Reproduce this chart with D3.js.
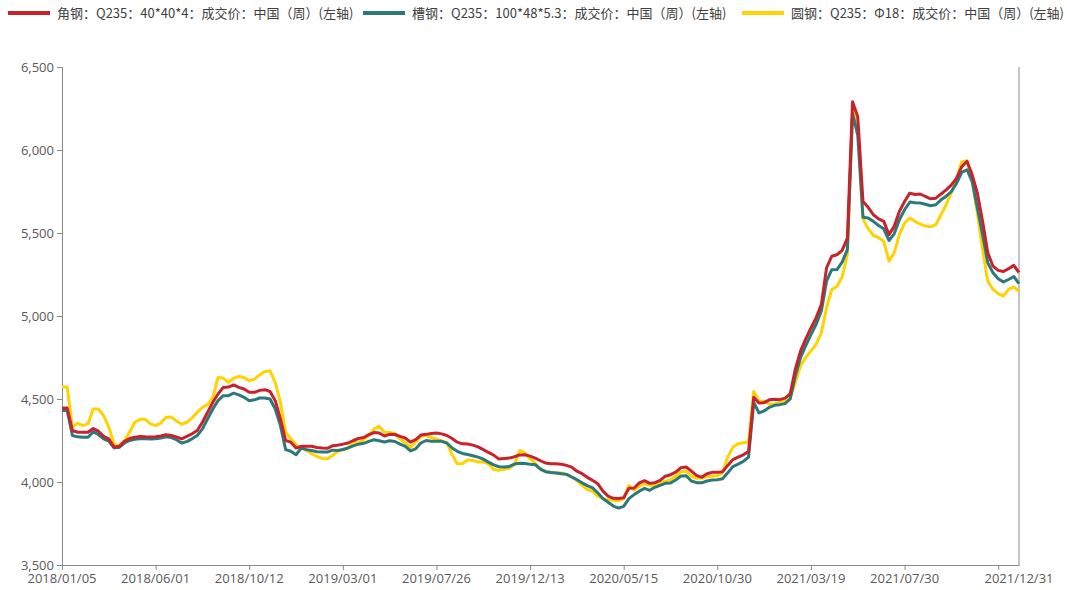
<!DOCTYPE html>
<html>
<head>
<meta charset="utf-8">
<script src="https://cdn.jsdelivr.net/npm/d3@7/dist/d3.min.js"></script>
<style>
  html, body { margin: 0; padding: 0; background: #fff; }
  svg { display: block; font-family: "Noto Sans CJK SC", "Noto Sans", sans-serif; }
</style>
</head>
<body>
<svg id="chart" width="1067" height="590"></svg>
<script>
// Weekly prices, yuan/ton, 185 weekly observations 2018/01/05 – 2021/12/31
const angleSteel = [
  4446,4446,4310,4300,4300,4300,4322,4306,4275,4260,
  4210,4215,4245,4262,4270,4274,4272,4271,4272,4278,
  4285,4280,4272,4260,4275,4290,4310,4360,4420,4480,
  4530,4570,4572,4585,4570,4560,4540,4540,4552,4556,
  4545,4490,4380,4250,4240,4205,4215,4215,4215,4208,
  4205,4203,4218,4222,4228,4235,4250,4262,4268,4285,
  4298,4295,4277,4287,4286,4275,4265,4240,4255,4283,
  4287,4292,4295,4290,4280,4262,4240,4230,4229,4222,
  4212,4195,4178,4162,4138,4142,4144,4152,4163,4164,
  4156,4144,4128,4114,4110,4110,4107,4100,4090,4065,
  4050,4028,4010,3990,3945,3915,3902,3900,3905,3962,
  3964,3995,4008,3992,3996,4010,4035,4044,4060,4086,
  4090,4066,4040,4028,4050,4058,4058,4062,4100,4135,
  4150,4164,4184,4510,4476,4478,4495,4498,4496,4505,
  4530,4680,4790,4862,4928,4990,5070,5290,5360,5369,
  5395,5470,6290,6200,5690,5655,5610,5585,5570,5490,
  5540,5630,5690,5740,5732,5735,5720,5706,5710,5735,
  5760,5790,5830,5900,5932,5850,5740,5570,5380,5300,
  5275,5268,5285,5305,5262
];
const channelSteel = [
  4431,4431,4280,4272,4270,4270,4302,4286,4260,4246,
  4206,4208,4235,4250,4258,4261,4260,4259,4260,4265,
  4272,4268,4255,4235,4243,4260,4280,4320,4380,4440,
  4490,4520,4520,4535,4525,4510,4490,4495,4506,4506,
  4500,4440,4340,4195,4185,4164,4205,4195,4190,4182,
  4180,4180,4192,4190,4196,4205,4218,4228,4233,4245,
  4255,4248,4241,4248,4244,4228,4215,4187,4200,4235,
  4250,4245,4245,4245,4235,4205,4185,4172,4166,4158,
  4150,4138,4120,4103,4092,4090,4094,4108,4113,4111,
  4107,4104,4078,4062,4057,4054,4050,4046,4030,4014,
  3995,3978,3965,3935,3900,3878,3855,3843,3853,3900,
  3924,3945,3962,3950,3968,3980,3992,3994,4012,4036,
  4038,4006,3996,3995,4006,4012,4014,4020,4055,4093,
  4108,4124,4150,4480,4416,4428,4450,4462,4466,4472,
  4500,4640,4750,4822,4888,4950,5030,5210,5279,5280,
  5325,5400,6220,6090,5595,5590,5570,5545,5525,5455,
  5495,5580,5640,5687,5682,5681,5673,5664,5670,5700,
  5722,5750,5800,5865,5881,5810,5650,5490,5320,5260,
  5225,5205,5220,5238,5195
];
const roundSteel = [
  4572,4572,4330,4355,4340,4350,4440,4440,4400,4330,
  4230,4215,4250,4300,4360,4378,4378,4350,4340,4355,
  4390,4391,4368,4348,4360,4385,4420,4450,4466,4510,
  4630,4626,4600,4625,4636,4630,4610,4620,4645,4665,
  4670,4600,4480,4300,4260,4225,4205,4190,4170,4154,
  4142,4140,4160,4184,4195,4205,4240,4235,4255,4280,
  4320,4335,4300,4298,4292,4260,4235,4208,4240,4275,
  4280,4268,4258,4248,4235,4165,4110,4112,4132,4130,
  4120,4122,4110,4075,4070,4076,4082,4105,4190,4175,
  4140,4112,4075,4062,4058,4056,4054,4047,4030,4010,
  3980,3955,3945,3915,3900,3893,3890,3887,3900,3980,
  3950,3975,3990,3980,3978,3995,4005,4012,4035,4062,
  4064,4035,4022,4024,4032,4036,4038,4055,4150,4210,
  4230,4236,4242,4545,4486,4486,4468,4470,4478,4490,
  4505,4600,4700,4750,4790,4830,4900,5050,5160,5178,
  5235,5370,6260,6150,5585,5525,5485,5472,5450,5330,
  5380,5490,5560,5590,5570,5554,5542,5537,5550,5610,
  5670,5745,5830,5930,5935,5810,5620,5400,5210,5160,
  5135,5120,5160,5175,5148
];

const seriesNames = [
  "角钢：Q235：40*40*4：成交价：中国（周）(左轴)",
  "槽钢：Q235：100*48*5.3：成交价：中国（周）(左轴)",
  "圆钢：Q235：Φ18：成交价：中国（周）(左轴)"
];
const seriesColors = ["#c8232c", "#2a7a7c", "#ffd200"];

// Axis labels on the week axis and the observation index they sit on
const dateLabels = ["2018/01/05","2018/06/01","2018/10/12","2019/03/01","2019/07/26",
  "2019/12/13","2020/05/15","2020/10/30","2021/03/19","2021/07/30","2021/12/31"];
const dateLabelIdx = [0,18,36,54,72,90,108,126,144,162,184];
const tickIdx = [0,18,36,54,72,90,108,126,144,162,180];
const yTicks = [3500,4000,4500,5000,5500,6000,6500];

const seriesData = [angleSteel, channelSteel, roundSteel];

const svg = d3.select("#chart");
const plot = { left: 62, right: 1019, top: 67, bottom: 565 };
const axisColor = "#8a8a8a";
const labelColor = "#595959";

const x = d3.scaleLinear().domain([0, angleSteel.length - 1]).range([plot.left, plot.right]);
const y = d3.scaleLinear().domain([3500, 6500]).range([plot.bottom, plot.top]);

// Left value axis
const yAxis = svg.append("g")
  .attr("transform", `translate(${plot.left},0)`)
  .call(d3.axisLeft(y).tickValues(yTicks).tickFormat(d3.format(",")).tickSize(5).tickPadding(3));
yAxis.select(".domain").attr("stroke", axisColor);
yAxis.selectAll(".tick line").attr("stroke", axisColor);
yAxis.selectAll("text").attr("fill", labelColor).style("font-size", "13px")
  .style("font-family", "'Open Sans', 'Noto Sans', sans-serif");

// Right axis line (no labels)
svg.append("line")
  .attr("x1", plot.right).attr("x2", plot.right)
  .attr("y1", plot.top).attr("y2", plot.bottom)
  .attr("stroke", axisColor);

// Bottom week axis
const xAxis = svg.append("g")
  .attr("transform", `translate(0,${plot.bottom})`)
  .call(d3.axisBottom(x).tickValues(tickIdx).tickFormat("").tickSize(5).tickSizeOuter(0));
xAxis.select(".domain").attr("stroke", axisColor);
xAxis.selectAll(".tick line").attr("stroke", axisColor);
svg.append("g").selectAll("text")
  .data(dateLabels)
  .join("text")
  .attr("x", (d, i) => x(dateLabelIdx[i]))
  .attr("y", plot.bottom + 18)
  .attr("text-anchor", "middle")
  .attr("fill", labelColor)
  .style("font-size", "13px")
  .style("font-family", "'Open Sans', 'Noto Sans', sans-serif")
  .text(d => d);

// Price lines
const line = d3.line().x((d, i) => x(i)).y(d => y(d)).curve(d3.curveLinear);
const drawOrder = [2, 1, 0];
svg.append("g").selectAll("path")
  .data(drawOrder)
  .join("path")
  .attr("d", k => line(seriesData[k]))
  .attr("fill", "none")
  .attr("stroke", k => seriesColors[k])
  .attr("stroke-width", 3)
  .attr("stroke-linejoin", "round");

// Legend
const legendX = [8, 363, 742];
const legend = svg.append("g").selectAll("g")
  .data(seriesNames)
  .join("g")
  .attr("transform", (d, i) => `translate(${legendX[i]},13)`);
legend.append("line")
  .attr("x1", 0).attr("x2", 42).attr("y1", 0).attr("y2", 0)
  .attr("stroke", (d, i) => seriesColors[i])
  .attr("stroke-width", 4);
legend.append("text")
  .attr("x", 49).attr("y", 0).attr("dy", "0.35em")
  .attr("fill", "#404040")
  .style("font-size", "13px")
  .text(d => d);
</script>
</body>
</html>
